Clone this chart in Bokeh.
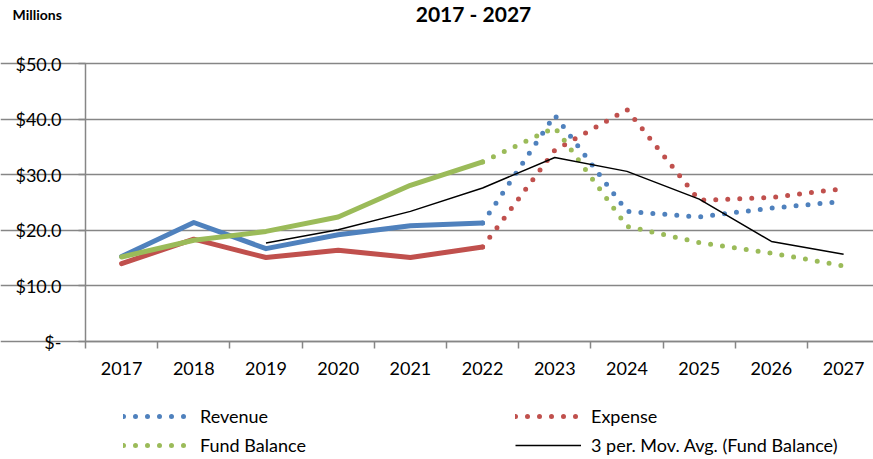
from bokeh.plotting import figure
from bokeh.models import Range1d, FixedTicker, Legend, LegendItem, Label
from bokeh.embed import file_html
from bokeh.resources import INLINE

# ---- data (values in $ millions) ----
years = [2017, 2018, 2019, 2020, 2021, 2022, 2023, 2024, 2025, 2026, 2027]
year_labels = ["2017", "2018", "2019", "2020", "2021", "2022", "2023", "2024", "2025", "2026", "2027"]
revenue = [15.3, 21.4, 16.7, 19.2, 20.8, 21.3, 40.7, 23.4, 22.4, 24.0, 25.2]
expense = [14.0, 18.4, 15.1, 16.4, 15.1, 17.0, 34.4, 41.7, 25.4, 25.9, 27.5]
fund_balance = [15.2, 18.2, 19.8, 22.4, 28.1, 32.3, 38.5, 20.7, 17.8, 15.9, 13.6]
mov_avg_years = [2019, 2020, 2021, 2022, 2023, 2024, 2025, 2026, 2027]
mov_avg = [17.7, 20.1, 23.4, 27.6, 33.1, 30.6, 25.6, 18.0, 15.7]
y_ticks = [0, 10, 20, 30, 40, 50]
y_tick_labels = ["$-", "$10.0", "$20.0", "$30.0", "$40.0", "$50.0"]
last_actual = 5  # index of 2022: solid up to here, dotted afterwards
title_text = "2017 - 2027"
unit_text = "Millions"

BLUE = "#4F81BD"
RED = "#C0504D"
GREEN = "#9BBB59"
GRAY = "#868686"
FONT = "Lato"

W, H = 873, 459
# plot-area geometry (pixels): left edge, top (y=50) and bottom (y=0)
PA_L, PA_T, PA_B = 85, 63, 341
X0 = years[0] - 0.5
px_per_year = 72.2
px_per_unit = (PA_B - PA_T) / 50.0
x_start = X0 - PA_L / px_per_year
x_end = X0 + (W - PA_L) / px_per_year
y_start = -(H - PA_B) / px_per_unit
y_end = PA_B / px_per_unit

p = figure(width=W, height=H, output_backend="svg", toolbar_location=None,
           x_range=Range1d(x_start, x_end), y_range=Range1d(y_start, y_end),
           min_border_left=0, min_border_right=0, min_border_top=0, min_border_bottom=0)
p.outline_line_color = None
p.title.visible = False

# axes drawn at fixed data locations (x axis at y=0, y axis at left category edge)
p.xaxis.fixed_location = 0
p.xaxis.bounds = (X0, years[-1] + 0.5)
p.xaxis.ticker = FixedTicker(ticks=years, minor_ticks=[y - 0.5 for y in years])
p.xaxis.major_label_overrides = {y: l for y, l in zip(years, year_labels)}
p.xaxis.major_tick_line_color = None
p.xaxis.major_tick_out = 7
p.xaxis.major_tick_in = 0
p.xaxis.minor_tick_line_color = GRAY
p.xaxis.minor_tick_line_width = 1.5
p.xaxis.minor_tick_out = 7
p.xaxis.minor_tick_in = 0
p.xaxis.major_label_standoff = 13

p.yaxis.fixed_location = X0
p.yaxis.bounds = (0, 50)
p.yaxis.ticker = FixedTicker(ticks=y_ticks)
p.yaxis.major_label_overrides = {t: l for t, l in zip(y_ticks, y_tick_labels)}
p.yaxis.major_tick_line_color = GRAY
p.yaxis.major_tick_line_width = 1.5
p.yaxis.major_tick_out = 7
p.yaxis.major_tick_in = 0
p.yaxis.minor_tick_line_color = None
p.yaxis.major_label_standoff = 17

for ax in (p.xaxis, p.yaxis):
    ax.axis_line_color = GRAY
    ax.axis_line_width = 1.5
    ax.major_label_text_font = FONT
    ax.major_label_text_font_size = "18px"
    ax.major_label_text_color = "#000000"

p.xgrid.visible = False
p.ygrid.ticker = FixedTicker(ticks=y_ticks)
p.ygrid.bounds = (X0, x_end + 1)
p.ygrid.grid_line_color = GRAY
p.ygrid.grid_line_width = 1.5

n = last_actual + 1
series = [(revenue, BLUE), (expense, RED), (fund_balance, GREEN)]
dotted = []
for vals, col in series:
    p.line(years[:n], vals[:n], line_color=col, line_width=5,
           line_cap="round", line_join="round")
for vals, col in series:
    r = p.line(years[last_actual:], vals[last_actual:], line_color=col, line_width=5,
               line_cap="round", line_join="round", line_dash="0 12")
    dotted.append(r)

r_avg = p.line(mov_avg_years, mov_avg, line_color="black", line_width=1.5)

common = dict(orientation="vertical", glyph_width=66, glyph_height=20, label_height=20,
              spacing=7, padding=0, margin=0, border_line_color=None,
              background_fill_alpha=0, label_text_font=FONT, label_text_font_size="18px",
              label_text_color="#000000")
leg1 = Legend(items=[LegendItem(label="Revenue", renderers=[dotted[0]]),
                     LegendItem(label="Fund Balance", renderers=[dotted[2]])],
              location=(123, 3), label_standoff=11, **common)
leg2 = Legend(items=[LegendItem(label="Expense", renderers=[dotted[1]]),
                     LegendItem(label="3 per. Mov. Avg. (Fund Balance)", renderers=[r_avg])],
              location=(515, 3), label_standoff=10, **common)
p.add_layout(leg1)
p.add_layout(leg2)

p.add_layout(Label(x=473, y=H - 13, x_units="screen", y_units="screen", text=title_text,
                   text_align="center", text_baseline="middle", text_font=FONT,
                   text_font_style="bold", text_font_size="21px", text_color="#000000"))
p.add_layout(Label(x=12, y=H - 14, x_units="screen", y_units="screen", text=unit_text,
                   text_align="left", text_baseline="middle", text_font=FONT,
                   text_font_style="bold", text_font_size="14px", text_color="#000000"))

open("out.html", "w").write(file_html(p, INLINE))
